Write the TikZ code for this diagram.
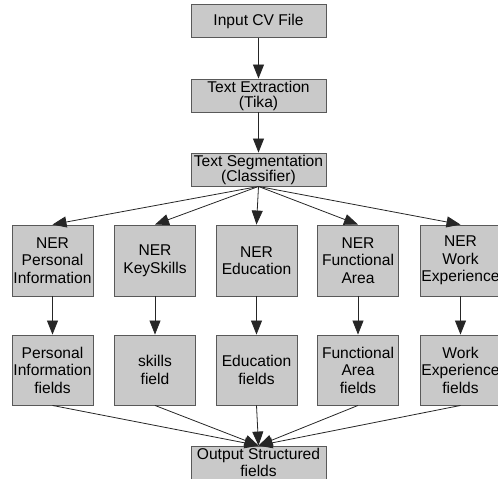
\documentclass[tikz,border=0pt]{standalone}
\usepackage{fontspec}
\setmainfont{Liberation Sans}
\usetikzlibrary{arrows.meta, positioning}

\begin{document}
\begin{tikzpicture}[
  x=1pt, y=-1pt,
  stage/.style={rectangle, draw=black!65, fill=gray!42, line width=0.9pt, minimum width=135pt, minimum height=33pt, inner sep=0pt, align=center, font=\fontsize{15.6}{15}\selectfont},
  ner/.style={rectangle, draw=black!65, fill=gray!42, line width=0.9pt, minimum width=81pt, minimum height=71pt, inner sep=0pt, align=center, font=\fontsize{15.6}{17.5}\selectfont},
  arrow/.style={-{Triangle[length=14pt,width=11pt]}, line width=0.8pt, black!85}
]
\useasboundingbox (0,0) rectangle (498,479);
\clip (0,0) rectangle (498,479);

% Pipeline stages
\node[stage] (input) at (258.5, 21) {Input CV File};
\node[stage] (extract) at (258.5, 95.5) {Text Extraction\\(Tika)};
\node[stage] (segment) at (258.5, 169.5) {Text Segmentation\\(Classifier)};

% NER models
\node[ner] (nerpers) at (52.5, 260.5) {NER\\Personal\\Information};
\node[ner] (nerskill) at (155, 260.5) {NER\\KeySkills};
\node[ner] (neredu) at (256.5, 260.5) {NER\\Education};
\node[ner] (nerfunc) at (358, 260.5) {NER\\Functional\\Area};
\node[ner] (nerwork) at (460.5, 260.5) {NER\\Work\\Experience};

% Extracted fields
\node[ner, minimum height=70pt] (fpers) at (52.5, 370) {Personal\\Information\\fields};
\node[ner, minimum height=70pt] (fskill) at (155, 370) {skills\\field};
\node[ner, minimum height=70pt] (fedu) at (256.5, 370) {Education\\fields};
\node[ner, minimum height=70pt] (ffunc) at (358, 370) {Functional\\Area\\fields};
\node[ner, minimum height=70pt] (fwork) at (460.5, 370) {Work\\Experience\\fields};

\node[stage, font=\fontsize{15.6}{17}\selectfont] (output) at (258.5, 462.5) {Output Structured\\fields};

% Arrows down the pipeline
\draw[arrow] (input) -- (extract);
\draw[arrow] (extract) -- (segment);

% Segmentation to each NER
\draw[arrow] (segment.south) -- (nerpers.north);
\draw[arrow] (segment.south) -- (nerskill.north);
\draw[arrow] (segment.south) -- (neredu.north);
\draw[arrow] (segment.south) -- (nerfunc.north);
\draw[arrow] (segment.south) -- (nerwork.north);

% NER to fields
\draw[arrow] (nerpers) -- (fpers);
\draw[arrow] (nerskill) -- (fskill);
\draw[arrow] (neredu) -- (fedu);
\draw[arrow] (nerfunc) -- (ffunc);
\draw[arrow] (nerwork) -- (fwork);

% Fields to output
\draw[arrow] (fpers.south) -- (output.north);
\draw[arrow] (fskill.south) -- (output.north);
\draw[arrow] (fedu.south) -- (output.north);
\draw[arrow] (ffunc.south) -- (output.north);
\draw[arrow] (fwork.south) -- (output.north);

\end{tikzpicture}
\end{document}
